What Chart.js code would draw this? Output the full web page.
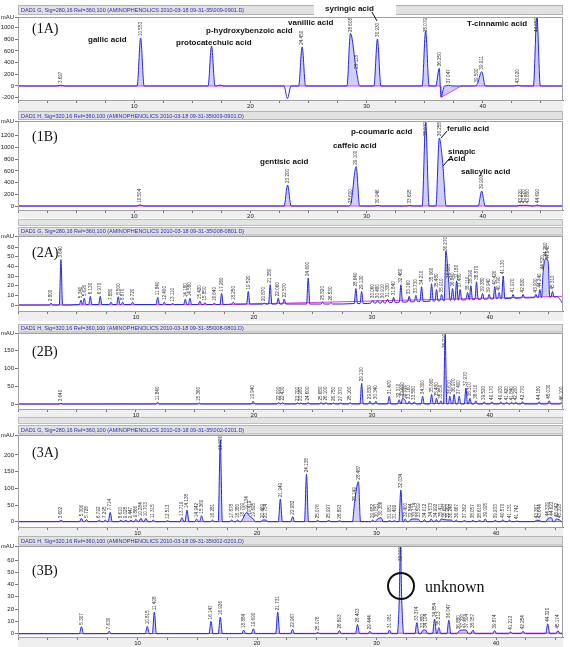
<!DOCTYPE html>
<html><head><meta charset="utf-8">
<script src="https://cdn.jsdelivr.net/npm/chart.js@4/dist/chart.umd.min.js"></script>
<style>
html,body{margin:0;padding:0;background:#fff;width:570px;height:647px;overflow:hidden}
canvas{position:absolute;left:0}
.strip{position:absolute;left:18px;width:543px;background:#e4e4e4;border:1px solid #bdbdbd}
</style></head><body>
<div class="strip" style="top:219px;height:5px"></div>
<div class="strip" style="top:417px;height:5px"></div>
<canvas id="c1A" width="570" height="110" style="top:3px"></canvas>
<canvas id="c1B" width="570" height="108" style="top:110px"></canvas>
<canvas id="c2A" width="570" height="95" style="top:226px"></canvas>
<canvas id="c2B" width="570" height="94" style="top:323px"></canvas>
<canvas id="c3A" width="570" height="112" style="top:424px"></canvas>
<canvas id="c3B" width="570" height="112" style="top:535px"></canvas>
<script>
// ================= DATA =================
const xTickLabels = [10, 20, 30, 40];
const yTicks1A = [-200, 0, 200, 400, 600, 800, 1000];
const yTicks1B = [0, 200, 400, 600, 800, 1000, 1200];
const yTicks2A = [0, 10, 20, 30, 40, 50, 60];
const yTicks2B = [0, 25, 50, 75, 100, 125, 150, 175];
const yTicks3A = [0, 50, 100, 150, 200];
const yTicks3B = [0, 10, 20, 30, 40, 50, 60];

const header1A = "DAD1 G, Sig=280,16 Ref=360,100 (AMINOPHENOLICS 2010-03-18 09-31-35\\009-0901.D)";
const header1B = "DAD1 H, Sig=320,16 Ref=360,100 (AMINOPHENOLICS 2010-03-18 09-31-35\\009-0901.D)";
const header2A = "DAD1 G, Sig=280,16 Ref=360,100 (AMINOPHENOLICS 2010-03-18 09-31-35\\008-0801.D)";
const header2B = "DAD1 H, Sig=320,16 Ref=360,100 (AMINOPHENOLICS 2010-03-18 09-31-35\\008-0801.D)";
const header3A = "DAD1 G, Sig=280,16 Ref=360,100 (AMINOPHENOLICS 2010-03-18 09-31-35\\002-0201.D)";
const header3B = "DAD1 H, Sig=320,16 Ref=360,100 (AMINOPHENOLICS 2010-03-18 09-31-35\\002-0201.D)";

// (1A) retention times (min), apex heights (mAU), printed labels
const rt1A = [3.697, 10.553, 16.655, 17.400, 23.190, 24.450, 28.608, 29.118, 30.930, 35.079, 36.250, 36.400, 37.047, 39.500, 39.911, 43.020, 44.650];
const h1A  = [15, 820, 680, 15, -215, 670, 900, 262, 805, 945, 302, -193, 12, 25, 245, 12, 1200];
const lab1A = ["3.697","10.553","","","","24.450","28.608","29.118","30.930","35.079","36.250","","37.047","39.500","39.911","43.020","44.650"];
const base1A = [[0,0],[36.40,0],[36.45,-190],[38.10,-5],[38.20,0],[46.9,0]];

// (1B)
const rt1B = [10.504, 23.200, 28.600, 29.100, 30.946, 33.695, 35.079, 36.258, 36.550, 39.900, 43.220, 43.520, 43.880, 44.690];
const h1B  = [20, 360, 15, 672, 10, 10, 1420, 1160, 730, 256, 12, 12, 12, 18];
const lab1B = ["10.504","23.200","28.600","29.100","30.946","33.695","35.079","36.258","","39.900","43.220","43.520","43.880","44.690"];
const base1B = [[0,0],[46.9,0]];

// (2A)
const rt2A = [2.800,3.640,5.340,5.620,6.130,6.970,7.880,8.500,8.870,9.720,11.840,12.400,13.110,14.180,14.580,15.420,15.850,16.640,17.260,18.250,19.520,20.870,21.380,22.060,22.570,24.600,25.820,26.530,28.640,29.130,30.060,30.480,30.910,31.330,31.840,32.460,33.160,33.730,34.210,35.060,35.480,35.910,36.270,36.500,36.840,37.180,37.480,38.110,38.390,38.870,39.380,39.940,40.420,40.790,41.130,41.970,42.820,43.900,44.240,44.520,44.750,44.940,45.310];
const h2A  = [2,47,5,7,9,9,3,8.5,3,3,8,3,1.5,6,7,4,2.5,2,12,3,14,2,21,7,6,28,3,2.5,17,14,5,5,5,6,8,21,9,10,19,22,16,11,56,26,17,25,16,13,20,24,12,11,19,13,30,11,11,11,16,35,48,45,14];
const floor2A = [0,0,0.5,0.5,0.5,0.5,0.5,0.5,0.5,0.5,0.5,0.5,0.5,0.5,0.5,0.5,0.5,0.5,0.5,1,1,1,1,1,1,1,1,1,1.5,1.5,2,2,2,2.5,2.5,3,3.3,3.5,3.7,4,4.2,4.5,4.5,4.7,5,5,5.2,5.5,5.5,5.8,6,6.2,6.4,6.5,6.7,7,7.3,7.6,7.7,7.8,8,8,8.2];
const base2A = [[0,0],[18,0.5],[46.2,9]];
const ends2A = [[0,0],[45.7,8.5],[46.2,1]];

// (2B)
const rt2B = [3.640,11.840,15.360,19.940,22.090,22.430,23.700,23.980,24.600,25.680,26.100,26.750,27.370,28.160,29.130,29.830,30.340,31.470,32.310,32.600,32.820,33.160,33.580,34.300,35.060,35.480,35.850,36.210,36.610,36.970,37.400,37.970,38.310,38.810,39.520,40.170,40.930,41.420,41.840,42.200,42.770,44.180,45.030,46.100];
const h2B  = [2,5,3,8,4,4,3,3,4,4,4,3,3,4,58,8,8,22,12,16,10,8,6,22,27,16,9,195,22,27,22,45,16,9,6,6,6,5,5,5,6,6,9,4];
const base2B = [[0,0],[46.2,2]];

// (3A)
const rt3A = [3.602,5.306,5.728,6.792,7.295,7.714,8.610,9.028,9.447,9.866,10.284,10.703,11.315,12.513,13.719,14.138,14.942,15.360,16.281,16.926,17.878,18.380,18.799,19.134,19.419,19.695,20.469,20.754,21.949,22.982,24.138,25.076,25.997,26.893,28.149,28.487,29.682,30.051,30.386,31.081,31.499,32.034,32.400,32.844,33.174,33.509,34.012,34.573,34.992,35.411,35.687,35.963,36.248,36.667,37.362,38.057,38.618,39.095,39.933,40.570,41.131,41.742,43.367,43.644,44.339,44.623,45.042,45.318];
const h3A  = [4,10,6,5,5,28,4,4,4,7,10,10,5,3,12,35,8,18,5,245,5,5,8,28,15,8,5,5,68,15,142,4,4,3,55,120,5,7,12,3,3,95,8,6,8,7,6,8,6,8,6,5,5,5,4,4,4,8,4,6,5,2,4,4,10,12,8,5];
const base3A = [[0,0],[45.6,0.5]];

// (3B)
const rt3B = [5.307,7.630,10.815,11.408,16.147,16.926,18.884,19.690,21.731,22.967,25.076,26.893,28.403,29.444,31.081,31.900,32.000,32.100,33.374,33.880,34.104,34.854,35.213,36.047,36.880,37.220,37.504,38.057,39.874,41.213,42.254,44.320,45.174];
const h3B  = [5.7,2,6,17.5,10,13.5,3,4,17.5,3.5,1,2.5,7.5,2,3,28,72,30,9,3,3,12,5,11,2,3,3,3,2.5,1.5,2,8,2.5];
const lab3B = ["5.307","7.630","10.815","11.408","16.147","16.926","18.884","19.690","21.731","22.967","25.076","26.893","28.403","29.444","31.081","","32.000","","33.374","33.880","34.104","34.854","35.213","36.047","36.880","37.220","37.504","38.057","39.874","41.213","42.254","44.320","45.174"];
const base3B = [[0,0],[45.6,0.5]];

// ================= LAYOUT / STYLE =================
const FONT = '"Liberation Sans", Arial, sans-serif';
const SERIF = '"Liberation Serif", "Times New Roman", serif';
const BLUE = '#2626e0';
const PINK = '#e23ce2';

const panels = [
 {id:'1A', top:3, height:110, hdr:[5,15], pt:17, pb:100, xMax:46.9, yMin:-240, yMax:1180, hw:0.3,
  rt:rt1A, h:h1A, lab:lab1A, pink:base1A, yTicks:yTicks1A, header:header1A,
  texts:[{t:'(1A)',x:32,y:29,serif:true},{t:'gallic acid',x:88,y:40},{t:'protocatechuic acid',x:176,y:43},
         {t:'p-hydroxybenzoic acid',x:206,y:31},{t:'vanillic acid',x:288,y:23},{t:'syringic acid',x:325,y:8.5},
         {t:'T-cinnamic acid',x:467,y:24}],
  lines:[[372,12,377,21]], white:[314,2,82,14]},
 {id:'1B', top:110, height:108, hdr:[111,120], pt:121, pb:210, xMax:46.9, yMin:-68, yMax:1453, hw:0.3,
  rt:rt1B, h:h1B, lab:lab1B, pink:base1B, yTicks:yTicks1B, header:header1B,
  texts:[{t:'(1B)',x:32,y:137,serif:true},{t:'gentisic acid',x:260,y:162},{t:'caffeic acid',x:333,y:146},
         {t:'p-coumaric acid',x:351,y:132},{t:'ferulic acid',x:447,y:129},{t:'sinapic',x:448,y:152},
         {t:'Acid',x:448,y:159},{t:'salicylic acid',x:461,y:172}],
  lines:[[447,131,441,138],[449,159,443,166]]},
 {id:'2A', top:226, height:95, hdr:[227,235.5], pt:236, pb:311, xMax:46.2, yMin:-6.2, yMax:71.4, hw:0.14,
  rt:rt2A, h:h2A, floor:floor2A, ends:ends2A, pink:base2A, yTicks:yTicks2A, header:header2A,
  texts:[{t:'(2A)',x:32,y:253,serif:true}]},
 {id:'2B', top:323, height:94, hdr:[324,332.5], pt:333, pb:409, xMax:46.2, yMin:-14, yMax:199.4, hw:0.14,
  rt:rt2B, h:h2B, pink:base2B, yTicks:yTicks2B, header:header2B,
  texts:[{t:'(2B)',x:32,y:352,serif:true}]},
 {id:'3A', top:424, height:112, hdr:[425,434.5], pt:435, pb:527, xMax:45.6, yMin:-16, yMax:260, hw:0.17,
  rt:rt3A, h:h3A, pink:base3A, yTicks:yTicks3A, header:header3A,
  texts:[{t:'(3A)',x:32,y:453,serif:true}]},
 {id:'3B', top:535, height:112, hdr:[536,545.5], pt:546, pb:637, xMax:45.6, yMin:-2.7, yMax:71.4, hw:0.17,
  rt:rt3B, h:h3B, lab:lab3B, pink:base3B, yTicks:yTicks3B, header:header3B,
  texts:[{t:'(3B)',x:32,y:571,serif:true},{t:'unknown',x:425,y:588,big:true}],
  circle:[401,586,13]}
];

function buildTrace(p) {
  const pts = [];
  const n = p.rt.length;
  for (let i = 0; i < n; i++) {
    const b = p.floor ? p.floor[i] : 0;
    const prevClose = i > 0 && p.rt[i] - p.rt[i-1] < 2*p.hw;
    const nextClose = i < n-1 && p.rt[i+1] - p.rt[i] < 2*p.hw;
    if (!prevClose) pts.push({x: p.rt[i] - p.hw, y: b});
    pts.push({x: p.rt[i], y: p.h[i]});
    if (!nextClose) pts.push({x: p.rt[i] + p.hw, y: b});
  }
  (p.ends || [[0,0],[p.xMax,0]]).forEach(([t,v]) => pts.push({x:t, y:v}));
  pts.sort((a,b) => a.x - b.x);
  return pts;
}

const decoPlugin = {
  id: 'deco',
  beforeDraw(chart, args, o) {
    const p = o.p, ctx = chart.ctx, ca = chart.chartArea;
    ctx.save();
    ctx.fillStyle = '#efefef';
    ctx.fillRect(ca.left, ca.bottom + 1, ca.right - ca.left, chart.height - ca.bottom - 1);
    const y0 = p.hdr[0] - p.top, y1 = p.hdr[1] - p.top;
    ctx.fillStyle = '#e2e2e2';
    ctx.fillRect(ca.left, y0, ca.right - ca.left, y1 - y0);
    ctx.strokeStyle = '#b4b4b4'; ctx.lineWidth = 1;
    ctx.strokeRect(ca.left + 0.5, y0 + 0.5, ca.right - ca.left - 1, y1 - y0 - 1);
    ctx.fillStyle = '#2a2ab8';
    ctx.font = '5.5px ' + FONT;
    ctx.textBaseline = 'middle'; ctx.textAlign = 'left';
    ctx.fillText(p.header, ca.left + 3, (y0 + y1) / 2 + 0.5);
    ctx.restore();
  },
  afterDraw(chart, args, o) {
    const p = o.p, ctx = chart.ctx, ca = chart.chartArea;
    const xs = chart.scales.x, ys = chart.scales.y;
    ctx.save();
    ctx.strokeStyle = '#a0a0a0'; ctx.lineWidth = 1;
    ctx.strokeRect(ca.left + 0.5, ca.top + 0.5, ca.right - ca.left - 1, ca.bottom - ca.top);
    ctx.font = '4.6px ' + FONT;
    ctx.fillStyle = '#303030';
    ctx.textBaseline = 'middle'; ctx.textAlign = 'left';
    p.rt.forEach((t, i) => {
      const lab = p.lab ? p.lab[i] : (p.h[i] > 0 ? t.toFixed(3) : '');
      if (!lab) return;
      const px = xs.getPixelForValue(t);
      const py = ys.getPixelForValue(Math.min(p.h[i], ys.max));
      const w = ctx.measureText(lab).width;
      let s = py - 2;
      if (s - w < ca.top + 1) s = ca.top + 1 + w;
      ctx.save(); ctx.translate(px, s); ctx.rotate(-Math.PI/2); ctx.fillText(lab, 0, 0); ctx.restore();
    });
    if (p.white) { ctx.fillStyle = '#fff'; ctx.fillRect(p.white[0], p.white[1] - p.top, p.white[2], p.white[3]); }
    (p.texts || []).forEach(a => {
      ctx.fillStyle = '#111';
      ctx.font = a.serif ? '14px ' + SERIF : a.big ? '16px ' + SERIF : 'bold 8px ' + FONT;
      ctx.fillText(a.t, a.x, a.y - p.top);
    });
    ctx.strokeStyle = '#111'; ctx.lineWidth = 1;
    (p.lines || []).forEach(l => { ctx.beginPath(); ctx.moveTo(l[0], l[1]-p.top); ctx.lineTo(l[2], l[3]-p.top); ctx.stroke(); });
    if (p.circle) { ctx.lineWidth = 2; ctx.beginPath(); ctx.arc(p.circle[0], p.circle[1]-p.top, p.circle[2], 0, Math.PI*2); ctx.stroke(); }
    ctx.restore();
  }
};

panels.forEach(p => {
  const trace = buildTrace(p);
  const pink = p.pink.map(([t,v]) => ({x:t, y:v}));
  const xh = p.height - (p.pb - p.top);
  const xTicks = [];
  for (let v = 0; v <= p.xMax + 1e-9; v += 2.5) xTicks.push(v);
  new Chart(document.getElementById('c' + p.id), {
    type: 'line',
    data: { datasets: [
      {data: trace, borderColor: BLUE, borderWidth: 1, pointRadius: 0, fill: false, cubicInterpolationMode: 'monotone', order: 0},
      {data: pink, borderColor: PINK, borderWidth: 1, pointRadius: 0, fill: false, order: 1},
      {data: trace, borderWidth: 0, borderColor: 'rgba(0,0,0,0)', pointRadius: 0, cubicInterpolationMode: 'monotone',
       fill: {target: 1, above: 'rgba(95,95,235,0.30)', below: 'rgba(0,0,0,0)'}, order: 2}
    ]},
    options: {
      responsive: false, animation: false, devicePixelRatio: 1,
      events: [],
      layout: {padding: {left: 0, right: 7, top: p.pt - p.top, bottom: 0}},
      plugins: {legend: {display: false}, tooltip: {enabled: false}, deco: {p}},
      scales: {
        x: {type: 'linear', min: 0, max: p.xMax,
            afterBuildTicks: s => { s.ticks = xTicks.map(v => ({value: v})); },
            afterFit: s => { s.height = xh; },
            ticks: {autoSkip: false, maxRotation: 0, padding: 0, color: '#222', font: {size: 6, family: FONT},
                    callback: v => xTickLabels.includes(v) ? String(v) : ''},
            grid: {drawOnChartArea: false, tickLength: 3, color: '#777'},
            border: {color: '#777'}},
        y: {min: p.yMin, max: p.yMax,
            afterBuildTicks: s => { s.ticks = p.yTicks.map(v => ({value: v})).concat([{value: p.yMax}]); },
            afterFit: s => { s.width = 18; },
            ticks: {padding: 1, color: '#222', font: {size: 6, family: FONT},
                    callback: v => Math.abs(v - p.yMax) < 1e-6 ? 'mAU' : String(v)},
            grid: {drawOnChartArea: false, tickLength: 3, color: '#777'},
            border: {color: '#777'}}
      }
    },
    plugins: [decoPlugin]
  });
});
</script>
</body></html>
